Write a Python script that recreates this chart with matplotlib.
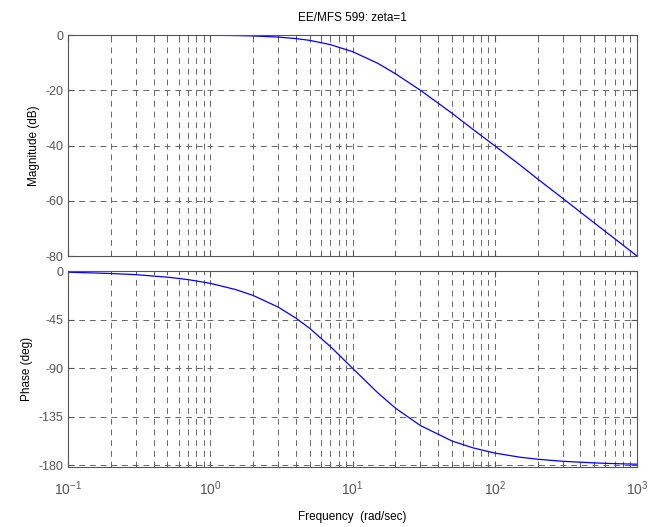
import math
import matplotlib
matplotlib.use("Agg")
import matplotlib.pyplot as plt
from matplotlib.ticker import LogLocator, NullFormatter, FuncFormatter

# frequency points (rad/sec) and values
freq = [0.1, 0.2, 0.3, 0.5, 0.7, 1, 1.5, 2, 3, 4, 5, 7, 10, 15, 20, 30,
        50, 70, 100, 150, 200, 300, 500, 700, 1000]
mag_db = [0.0, 0.0, -0.01, -0.02, -0.04, -0.09, -0.19, -0.34, -0.75, -1.29,
          -1.94, -3.49, -6.02, -10.2, -14.0, -20.0, -28.3, -34.1, -40.1,
          -47.0, -52.1, -59.1, -68.0, -73.8, -80.0]
phase_deg = [-1.1, -2.3, -3.4, -5.7, -8.0, -11.4, -17.1, -22.6, -33.4, -43.6,
             -53.1, -70.0, -90.0, -112.6, -126.9, -143.1, -157.4, -163.7,
             -168.6, -172.4, -174.3, -176.2, -177.7, -178.4, -178.9]

mag_ticks = [0, -20, -40, -60, -80]
phase_ticks = [0, -45, -90, -135, -180]

plt.rcParams["font.family"] = ["Liberation Sans", "DejaVu Sans"]
plt.rcParams["font.size"] = 8.5
plt.rcParams["axes.unicode_minus"] = False
plt.rcParams["mathtext.fontset"] = "custom"
plt.rcParams["mathtext.rm"] = "Liberation Sans"
plt.rcParams["mathtext.default"] = "rm"

fig = plt.figure(figsize=(6.48, 5.27), dpi=100)
ax1 = fig.add_axes([68 / 648, 1 - 256 / 527, 569 / 648, 221 / 527])
ax2 = fig.add_axes([68 / 648, 1 - 467 / 527, 569 / 648, 196 / 527])

grid_kw = dict(color="#666666", linestyle=(0, (6, 5)), linewidth=0.7)


def decade_label(v, pos):
    return r"$\mathregular{10^{%d}}$" % round(math.log10(v))


for ax in (ax1, ax2):
    ax.set_xscale("log")
    ax.set_xlim(0.1, 1000)
    ax.xaxis.set_major_locator(LogLocator(base=10))
    ax.xaxis.set_minor_locator(LogLocator(base=10, subs=range(2, 10)))
    ax.xaxis.set_minor_formatter(NullFormatter())
    ax.grid(True, which="major", **grid_kw)
    ax.grid(True, which="minor", axis="x", **grid_kw)
    ax.tick_params(which="both", direction="in", colors="#555555",
                   labelcolor="#555555", top=True, right=True, length=4,
                   labelsize=9)
    ax.tick_params(which="minor", length=2)
    for sp in ax.spines.values():
        sp.set_color("#555555")
        sp.set_linewidth(0.8)

ax1.plot(freq, mag_db, color="blue", linewidth=0.9)
ax1.set_ylim(-80, 0)
ax1.set_yticks(mag_ticks)
ax1.set_xticklabels([])
ax1.set_ylabel("Magnitude (dB)")
ax1.set_title("EE/MFS 599: zeta=1", fontsize=8.5, pad=10)

ax2.plot(freq, phase_deg, color="blue", linewidth=0.9)
ax2.set_ylim(-181.5, 0)
ax2.set_yticks(phase_ticks)
ax2.xaxis.set_major_formatter(FuncFormatter(decade_label))
ax2.tick_params(axis="x", which="major", pad=9, labelsize=10)
ax2.set_ylabel("Phase (deg)")
ax2.set_xlabel("Frequency  (rad/sec)", labelpad=9)

fig.savefig("out.png", dpi=100)
